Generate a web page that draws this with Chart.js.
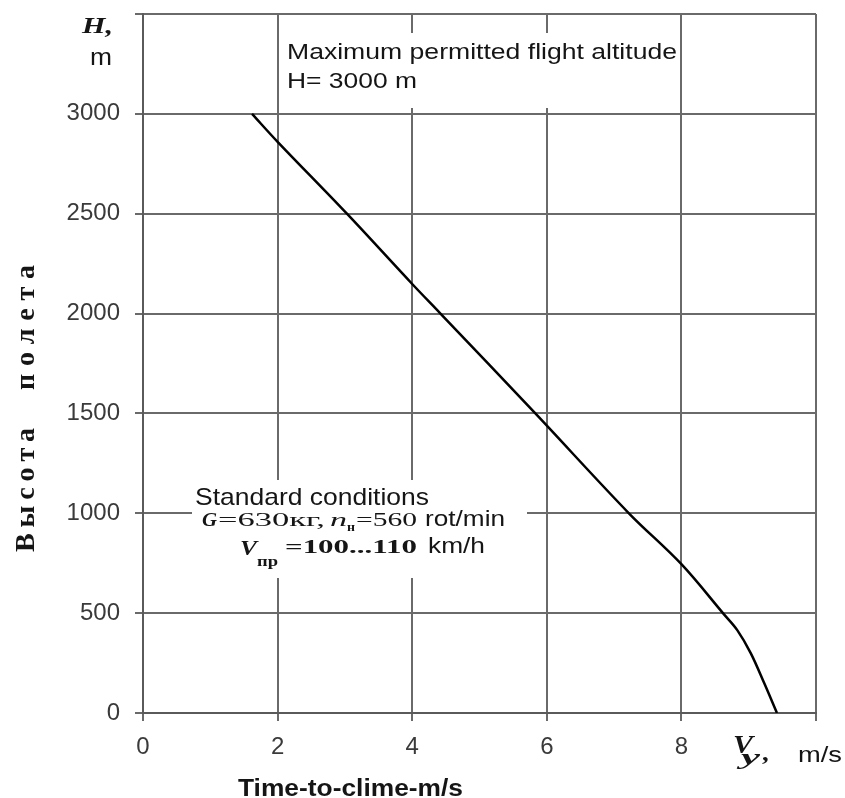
<!DOCTYPE html>
<html>
<head>
<meta charset="utf-8">
<script src="https://cdn.jsdelivr.net/npm/chart.js@4.4.1/dist/chart.umd.min.js"></script>
<style>
  html, body { margin: 0; padding: 0; background: #fff; }
  #wrap { width: 845px; height: 798px; position: relative; }
</style>
</head>
<body>
<div id="wrap"><canvas id="c"></canvas></div>
<script>
// ---- data ----
const vyValues = [1.62, 2.00, 3.03, 4.00, 4.42, 5.83, 7.22, 8.00, 8.63, 8.83, 9.03, 9.23, 9.42];
const altitudeValues = [3000, 2860, 2500, 2148, 2000, 1500, 1000, 745, 495, 415, 300, 150, 0];
const xTicks = [0, 2, 4, 6, 8, 10];
const yTicks = [0, 500, 1000, 1500, 2000, 2500, 3000, 3500];
const xHiddenTick = 10;
const yHiddenTick = 3500;

const points = vyValues.map((v, i) => ({ x: v, y: altitudeValues[i] }));

const SANS = '"Liberation Sans", Arial, sans-serif';
const SERIF = '"Liberation Serif", "Times New Roman", serif';

function drawFit(ctx, text, font, x0, x1, baseline) {
  ctx.save();
  ctx.font = font;
  ctx.textAlign = 'left';
  ctx.textBaseline = 'alphabetic';
  const w = ctx.measureText(text).width;
  const sx = (x1 - x0) / w;
  ctx.translate(x0, baseline);
  ctx.scale(sx, 1);
  ctx.fillText(text, 0, 0);
  ctx.restore();
}

// rotated word with letters spread from yStart up to yEnd
function drawSpacedVertical(ctx, text, font, xBase, yStart, yEnd) {
  ctx.save();
  ctx.font = font;
  ctx.textAlign = 'left';
  ctx.textBaseline = 'alphabetic';
  ctx.translate(xBase, yStart);
  ctx.rotate(-Math.PI / 2);
  const chars = Array.from(text);
  const widths = chars.map(c => ctx.measureText(c).width);
  const total = widths.reduce((a, b) => a + b, 0);
  const len = yStart - yEnd;
  const gap = chars.length > 1 ? (len - total) / (chars.length - 1) : 0;
  let pos = 0;
  chars.forEach((c, i) => {
    ctx.fillText(c, pos, 0);
    pos += widths[i] + gap;
  });
  ctx.restore();
}

const annotationPlugin = {
  id: 'annot',
  afterDraw(chart) {
    const ctx = chart.ctx;
    ctx.save();
    // white boxes hiding grid lines
    ctx.fillStyle = '#ffffff';
    ctx.fillRect(280, 33, 399, 75);
    ctx.fillRect(192, 480, 335, 98);

    ctx.fillStyle = '#151515';
    // top annotation
    drawFit(ctx, 'Maximum permitted flight altitude', '22px ' + SANS, 287, 677, 59);
    drawFit(ctx, 'H= 3000 m', '22px ' + SANS, 287, 417, 88);

    // standard conditions
    drawFit(ctx, 'Standard conditions', '24px ' + SANS, 195, 429, 505);
    drawFit(ctx, 'G', 'italic bold 19px ' + SERIF, 202, 217, 526);
    drawFit(ctx, '=630кг,', '19px ' + SERIF, 218, 325, 526);
    drawFit(ctx, 'n', 'italic 19px ' + SERIF, 330, 347, 526);
    drawFit(ctx, 'н', 'bold 13px ' + SERIF, 347, 355, 531);
    drawFit(ctx, '=560', '19px ' + SERIF, 356, 417, 526);
    drawFit(ctx, 'rot/min', '22px ' + SANS, 425, 505, 526);
    drawFit(ctx, 'V', 'italic bold 21px ' + SERIF, 240, 257, 555);
    drawFit(ctx, 'пр', 'bold 15px ' + SERIF, 257, 278, 566);
    drawFit(ctx, '=100...110', 'bold 19px ' + SERIF, 285, 417, 553);
    drawFit(ctx, 'km/h', '22px ' + SANS, 428, 485, 553);

    // y axis unit
    drawFit(ctx, 'H,', 'italic bold 23px ' + SERIF, 82, 113, 33);
    drawFit(ctx, 'm', '24px ' + SANS, 90, 112, 65);

    // x axis unit
    drawFit(ctx, 'V', 'italic bold 26px ' + SERIF, 733, 753, 753);
    drawFit(ctx, 'y', 'italic bold 22px ' + SERIF, 741, 760, 764);
    drawFit(ctx, ',', 'italic bold 24px ' + SERIF, 763, 770, 760);
    drawFit(ctx, 'm/s', '22px ' + SANS, 798, 842, 762);

    // x axis title
    drawFit(ctx, 'Time-to-clime-m/s', 'bold 23px ' + SANS, 238, 463, 796);

    // y axis title (rotated, spaced)
    drawSpacedVertical(ctx, 'Высота', 'bold 28px ' + SERIF, 34, 552, 428);
    drawSpacedVertical(ctx, 'полета', 'bold 28px ' + SERIF, 34, 390, 265);
    ctx.restore();
  }
};

const gridColor = '#6a6a6a';

new Chart(document.getElementById('c'), {
  type: 'scatter',
  data: {
    datasets: [{
      data: points,
      showLine: true,
      borderColor: '#000',
      borderWidth: 2.5,
      pointRadius: 0,
      tension: 0.35,
      fill: false
    }]
  },
  options: {
    responsive: true,
    maintainAspectRatio: false,
    animation: false,
    layout: { padding: { left: 0, right: 29, top: 14, bottom: 0 } },
    plugins: {
      legend: { display: false },
      tooltip: { enabled: false }
    },
    scales: {
      x: {
        type: 'linear',
        min: xTicks[0],
        max: xTicks[xTicks.length - 1],
        afterBuildTicks(scale) { scale.ticks = xTicks.map(v => ({ value: v })); },
        afterFit(scale) { scale.height = 85; scale.paddingLeft = 0; scale.paddingRight = 0; },
        ticks: {
          autoSkip: false,
          maxRotation: 0,
          padding: 12,
          color: '#3a3a3a',
          font: { family: SANS, size: 24 },
          callback: v => (v === xHiddenTick ? '' : String(v))
        },
        grid: { color: gridColor, lineWidth: 2, tickLength: 8, drawTicks: true },
        border: { color: '#5a5a5a', width: 2 }
      },
      y: {
        type: 'linear',
        min: yTicks[0],
        max: yTicks[yTicks.length - 1],
        afterBuildTicks(scale) { scale.ticks = yTicks.map(v => ({ value: v })); },
        afterFit(scale) { scale.width = 143; scale.paddingTop = 0; scale.paddingBottom = 0; },
        ticks: {
          autoSkip: false,
          padding: 15,
          color: '#3a3a3a',
          font: { family: SANS, size: 24 },
          callback: v => (v === yHiddenTick ? '' : String(v))
        },
        grid: { color: gridColor, lineWidth: 2, tickLength: 8, drawTicks: true },
        border: { color: '#5a5a5a', width: 2 }
      }
    }
  },
  plugins: [annotationPlugin]
});
</script>
</body>
</html>
